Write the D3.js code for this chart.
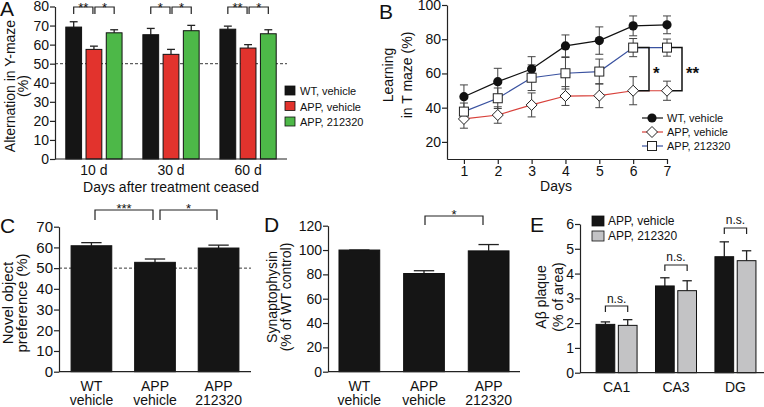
<!DOCTYPE html>
<html><head><meta charset="utf-8">
<script src="https://cdn.jsdelivr.net/npm/d3@7"></script>
<style>
html,body{margin:0;padding:0;background:#fff;}
svg text{font-family:"Liberation Sans",Arial,Helvetica,sans-serif;fill:#111;}
</style></head>
<body>
<svg id="fig" width="764" height="407"></svg>
<script>
// ---------- DATA ----------
// Panel A
const A_groups = ["10 d", "30 d", "60 d"];
const A_series = ["WT, vehicle", "APP, vehicle", "APP, 212320"];
const A_colors = ["#151515", "#e2332d", "#4db848"];
const A_wt = [69.2, 65.2, 68.1];
const A_wtErr = [2.8, 3.3, 1.6];
const A_app = [57.5, 54.9, 58.2];
const A_appErr = [1.7, 2.6, 1.8];
const A_drug = [66.2, 67.3, 65.7];
const A_drugErr = [1.6, 2.8, 2.1];
const A_yTicks = [0, 10, 20, 30, 40, 50, 60, 70, 80];
const A_sig = [["**", "*"], ["*", "*"], ["**", "*"]];
// Panel B
const B_days = [1, 2, 3, 4, 5, 6, 7];
const B_wt = [46.4, 55.2, 62.6, 76.1, 79.2, 87.8, 88.4];
const B_wtErr = [6.9, 7.8, 7.2, 6.4, 8.0, 5.8, 5.2];
const B_app = [33.4, 35.7, 41.6, 46.8, 47.0, 49.9, 49.9];
const B_appErr = [5.4, 4.8, 7.0, 5.5, 7.0, 8.2, 5.6];
const B_drug = [37.7, 45.5, 57.5, 60.1, 61.1, 75.1, 75.1];
const B_drugErr = [5.0, 6.0, 7.5, 9.2, 7.3, 5.3, 5.0];
const B_yTicks = [20, 40, 60, 80, 100];
// Panel C
const C_cats = [["WT", "vehicle"], ["APP", "vehicle"], ["APP", "212320"]];
const C_vals = [60.8, 52.8, 59.7];
const C_errs = [1.5, 1.6, 1.4];
const C_yTicks = [0, 10, 20, 30, 40, 50, 60, 70];
// Panel D
const D_cats = [["WT", "vehicle"], ["APP", "vehicle"], ["APP", "212320"]];
const D_vals = [100, 80.7, 99.3];
const D_errs = [0, 2.3, 5.2];
const D_yTicks = [0, 20, 40, 60, 80, 100, 120];
// Panel E
const E_regions = ["CA1", "CA3", "DG"];
const E_series = ["APP, vehicle", "APP, 212320"];
const E_colors = ["#151515", "#c3c3c5"];
const E_app = [1.95, 3.5, 4.68];
const E_appErr = [0.1, 0.33, 0.6];
const E_drug = [1.91, 3.31, 4.52];
const E_drugErr = [0.23, 0.4, 0.4];
const E_yTicks = [0, 1, 2, 3, 4, 5, 6];

// ---------- HELPERS ----------
const svg = d3.select("#fig");
svg.append("rect").attr("width", 764).attr("height", 407).attr("fill", "#fff");
const FS = 14;

function yAxis(g, scale, ticks, fs) {
  const ax = d3.axisLeft(scale).tickValues(ticks).tickSize(5).tickSizeOuter(0).tickPadding(1).tickFormat(d3.format("d"));
  g.call(ax);
  g.selectAll("path.domain").attr("stroke", "#222").attr("stroke-width", 1.2);
  g.selectAll(".tick line").attr("stroke", "#222").attr("stroke-width", 1.2);
  g.selectAll(".tick text").attr("font-size", fs || FS).attr("fill", "#222").attr("font-family", '"Liberation Sans",Arial,sans-serif');
}
function hline(x1, x2, y, dash) {
  svg.append("line").attr("x1", x1).attr("x2", x2).attr("y1", y).attr("y2", y)
    .attr("stroke", "#222").attr("stroke-width", dash ? 0.9 : 1.2).attr("stroke-dasharray", dash ? "3,2" : null);
}
function label(txt, x, y, fs, anchor, weight) {
  return svg.append("text").attr("x", x).attr("y", y).attr("font-size", fs)
    .attr("text-anchor", anchor || "start").attr("font-weight", weight || "normal").text(txt);
}
function yTitle(lines, x, y, fs, gap) {
  lines.forEach((l, i) => {
    svg.append("text").attr("transform", `translate(${x + i * gap},${y}) rotate(-90)`)
      .attr("text-anchor", "middle").attr("font-size", fs).text(l);
  });
}
function bracket(x1, x2, yTop, yBot, txt, fs, ty) {
  svg.append("path").attr("d", `M${x1},${yBot}V${yTop}H${x2}V${yBot}`)
    .attr("fill", "none").attr("stroke", "#222").attr("stroke-width", 1.2);
  label(txt, (x1 + x2) / 2, ty, fs, "middle");
}
function barWithErr(x, w, y0, yv, yErr, fill) {
  svg.append("line").attr("x1", x + w / 2).attr("x2", x + w / 2).attr("y1", yv).attr("y2", yErr)
    .attr("stroke", "#222").attr("stroke-width", 1.3);
  svg.append("line").attr("x1", x + w / 4).attr("x2", x + 3 * w / 4).attr("y1", yErr).attr("y2", yErr)
    .attr("stroke", "#222").attr("stroke-width", 1.3);
  svg.append("rect").attr("x", x).attr("y", yv).attr("width", w).attr("height", y0 - yv)
    .attr("fill", fill).attr("stroke", "#111").attr("stroke-width", 1);
}

// ---------- PANEL A ----------
{
  const y = d3.scaleLinear().domain([0, 80]).range([159, 6.5]);
  const x0 = d3.scaleBand().domain(A_groups).range([55, 287]).paddingInner(0.27).paddingOuter(0.14);
  const x1 = d3.scaleBand().domain(A_series).range([0, x0.bandwidth()]).paddingInner(0.22);
  const means = [A_wt, A_app, A_drug], errs = [A_wtErr, A_appErr, A_drugErr];
  hline(55, 287, y(50), true);
  A_groups.forEach((g, gi) => {
    A_series.forEach((s, si) => {
      barWithErr(x0(g) + x1(s), x1.bandwidth(), y(0), y(means[si][gi]), y(means[si][gi] + errs[si][gi]), A_colors[si]);
    });
    const c = i => x0(g) + x1(A_series[i]) + x1.bandwidth() / 2;
    bracket(c(0), c(1) - 1, 7, 14, A_sig[gi][0], 13, 11.5);
    bracket(c(1) + 1, c(2), 7, 14, A_sig[gi][1], 13, 11.5);
  });
  hline(55, 287, y(0));
  yAxis(svg.append("g").attr("transform", "translate(55,0)"), y, A_yTicks);
  A_groups.forEach(g => label(g, x0(g) + x0.bandwidth() / 2, 175, FS, "middle"));
  label("Days after treatment ceased", 171, 192, FS, "middle");
  yTitle(["Alternation in Y-maze", "(%)"], 15, 86, FS, 12.5);
  label("A", 0, 16, 21);
  A_series.forEach((s, i) => {
    svg.append("rect").attr("x", 285).attr("y", 86 + i * 15.5).attr("width", 10).attr("height", 9)
      .attr("fill", A_colors[i]).attr("stroke", "#111").attr("stroke-width", 0.8);
    label(s, 300, 95 + i * 15.5, 11);
  });
}

// ---------- PANEL B ----------
{
  const y = d3.scaleLinear().domain([10, 100]).range([159, 5]);
  const x = d3.scaleLinear().domain([0.5, 7]).range([447, 667]);
  const series = [
    { v: B_wt, e: B_wtErr, color: "#111", shape: "circle" },
    { v: B_app, e: B_appErr, color: "#d8403a", shape: "diamond" },
    { v: B_drug, e: B_drugErr, color: "#3a52a0", shape: "square" }
  ];
  series.forEach(s => {
    B_days.forEach((d, i) => {
      const cx = x(d);
      svg.append("line").attr("x1", cx).attr("x2", cx).attr("y1", y(s.v[i] - s.e[i])).attr("y2", y(s.v[i] + s.e[i]))
        .attr("stroke", "#444").attr("stroke-width", 1);
      [s.v[i] - s.e[i], s.v[i] + s.e[i]].forEach(v => {
        svg.append("line").attr("x1", cx - 4).attr("x2", cx + 4).attr("y1", y(v)).attr("y2", y(v))
          .attr("stroke", "#444").attr("stroke-width", 1);
      });
    });
  });
  const line = d3.line().x((d, i) => x(B_days[i])).y(d => y(d));
  series.forEach(s => {
    svg.append("path").attr("d", line(s.v)).attr("fill", "none").attr("stroke", s.color).attr("stroke-width", 1.2);
  });
  function marker(shape, cx, cy) {
    if (shape === "circle") svg.append("circle").attr("cx", cx).attr("cy", cy).attr("r", 4.6).attr("fill", "#111");
    else if (shape === "diamond") svg.append("path").attr("d", `M${cx},${cy - 5.5}L${cx + 5.5},${cy}L${cx},${cy + 5.5}L${cx - 5.5},${cy}Z`)
      .attr("fill", "#fff").attr("stroke", "#222").attr("stroke-width", 1);
    else svg.append("rect").attr("x", cx - 4.5).attr("y", cy - 4.5).attr("width", 9).attr("height", 9)
      .attr("fill", "#fff").attr("stroke", "#222").attr("stroke-width", 1);
  }
  function bBracket(day, xv, txt) {
    const yt = y(B_drug[day]), yb = y(B_app[day]);
    svg.append("path").attr("d", `M${x(B_days[day]) + 5},${yt}H${xv}V${yb}H${x(B_days[day]) + 5}`)
      .attr("fill", "none").attr("stroke", "#111").attr("stroke-width", 1.5);
    label(txt, xv + 4, (yt + yb) / 2 + 10, 17, "start", "bold");
  }
  bBracket(5, 649, "*");
  bBracket(6, 682, "**");
  series.forEach(s => s.v.forEach((v, i) => marker(s.shape, x(B_days[i]), y(v))));
  yAxis(svg.append("g").attr("transform", "translate(447,0)"), y, B_yTicks);
  const gx = svg.append("g").attr("transform", "translate(0,159)")
    .call(d3.axisBottom(x).tickValues(B_days).tickSize(5).tickSizeOuter(0).tickPadding(2).tickFormat(d3.format("d")));
  gx.selectAll("path.domain").attr("stroke", "#222").attr("stroke-width", 1.2);
  gx.selectAll(".tick line").attr("stroke", "#222").attr("stroke-width", 1.2);
  gx.selectAll(".tick text").attr("font-size", FS).attr("fill", "#222").attr("font-family", '"Liberation Sans",Arial,sans-serif');
  label("Days", 556, 191, FS, "middle");
  yTitle(["Learning", "in T maze (%)"], 393, 75, FS, 19);
  label("B", 379, 19, 21);
  const leg = [["WT, vehicle", "#111", "circle"], ["APP, vehicle", "#d8403a", "diamond"], ["APP, 212320", "#3a52a0", "square"]];
  leg.forEach((l, i) => {
    const ly = 118 + i * 14;
    svg.append("line").attr("x1", 642).attr("x2", 663).attr("y1", ly).attr("y2", ly).attr("stroke", l[1]).attr("stroke-width", 1.2);
    marker(l[2], 652, ly);
    label(l[0], 667, ly + 4, 11);
  });
}

// ---------- PANEL C ----------
{
  const y = d3.scaleLinear().domain([0, 70]).range([371.7, 226.7]);
  const x = d3.scaleBand().domain(d3.range(3)).range([59, 251]).paddingInner(0.36).paddingOuter(0.19);
  hline(59, 251, y(50), true);
  C_vals.forEach((v, i) => barWithErr(x(i), x.bandwidth(), y(0), y(v), y(v + C_errs[i]), "#151515"));
  hline(59, 251, y(0));
  yAxis(svg.append("g").attr("transform", "translate(59,0)"), y, C_yTicks, 15);
  const cx = i => x(i) + x.bandwidth() / 2;
  bracket(95, 153, 210, 220, "***", 13, 213);
  bracket(160, 217, 210, 220, "*", 13, 213);
  C_cats.forEach((c, i) => { label(c[0], cx(i), 390.5, FS, "middle"); label(c[1], cx(i), 405, FS, "middle"); });
  yTitle(["Novel object", "preference (%)"], 13, 303, 15, 14);
  label("C", 0, 233, 21);
}

// ---------- PANEL D ----------
{
  const y = d3.scaleLinear().domain([0, 120]).range([371.7, 225.7]);
  const x = d3.scaleBand().domain(d3.range(3)).range([328, 520]).paddingInner(0.37).paddingOuter(0.17);
  D_vals.forEach((v, i) => barWithErr(x(i), x.bandwidth(), y(0), y(v), y(v + D_errs[i]), "#151515"));
  hline(328, 520, y(0));
  yAxis(svg.append("g").attr("transform", "translate(328,0)"), y, D_yTicks);
  const cx = i => x(i) + x.bandwidth() / 2;
  bracket(425, 483, 216, 225, "*", 13, 219);
  D_cats.forEach((c, i) => { label(c[0], cx(i), 390.5, FS, "middle"); label(c[1], cx(i), 405, FS, "middle"); });
  yTitle(["Synaptophysin", "(% of WT control)"], 277, 297, FS, 13.5);
  label("D", 264, 232, 21);
}

// ---------- PANEL E ----------
{
  const y = d3.scaleLinear().domain([0, 6]).range([372.7, 224]);
  const x0 = d3.scaleBand().domain(E_regions).range([580, 772]).paddingInner(0.31).paddingOuter(0.27);
  const x1 = d3.scaleBand().domain(E_series).range([0, x0.bandwidth()]).paddingInner(0.16);
  const means = [E_app, E_drug], errs = [E_appErr, E_drugErr];
  const nsY = [[306, 312, 303], [265, 271, 261], [228, 234, 224]];
  E_regions.forEach((r, ri) => {
    E_series.forEach((s, si) => {
      barWithErr(x0(r) + x1(s), x1.bandwidth(), y(0), y(means[si][ri]), y(means[si][ri] + errs[si][ri]), E_colors[si]);
    });
    const c = i => x0(r) + x1(E_series[i]) + x1.bandwidth() / 2;
    bracket(c(0), c(1), nsY[ri][0], nsY[ri][1], "n.s.", 12, nsY[ri][2]);
  });
  hline(580, 772, y(0));
  yAxis(svg.append("g").attr("transform", "translate(580,0)"), y, E_yTicks);
  E_regions.forEach(r => label(r, x0(r) + x0.bandwidth() / 2, 392, FS, "middle"));
  yTitle(["A\u03b2 plaque", "(% of area)"], 546, 297, FS, 17);
  label("E", 530, 232, 21);
  E_series.forEach((s, i) => {
    svg.append("rect").attr("x", 592).attr("y", 216 + i * 15).attr("width", 12).attr("height", 10)
      .attr("fill", E_colors[i]).attr("stroke", "#111").attr("stroke-width", 0.8);
    label(s, 608, 225 + i * 15, 12);
  });
}
</script>
</body></html>
